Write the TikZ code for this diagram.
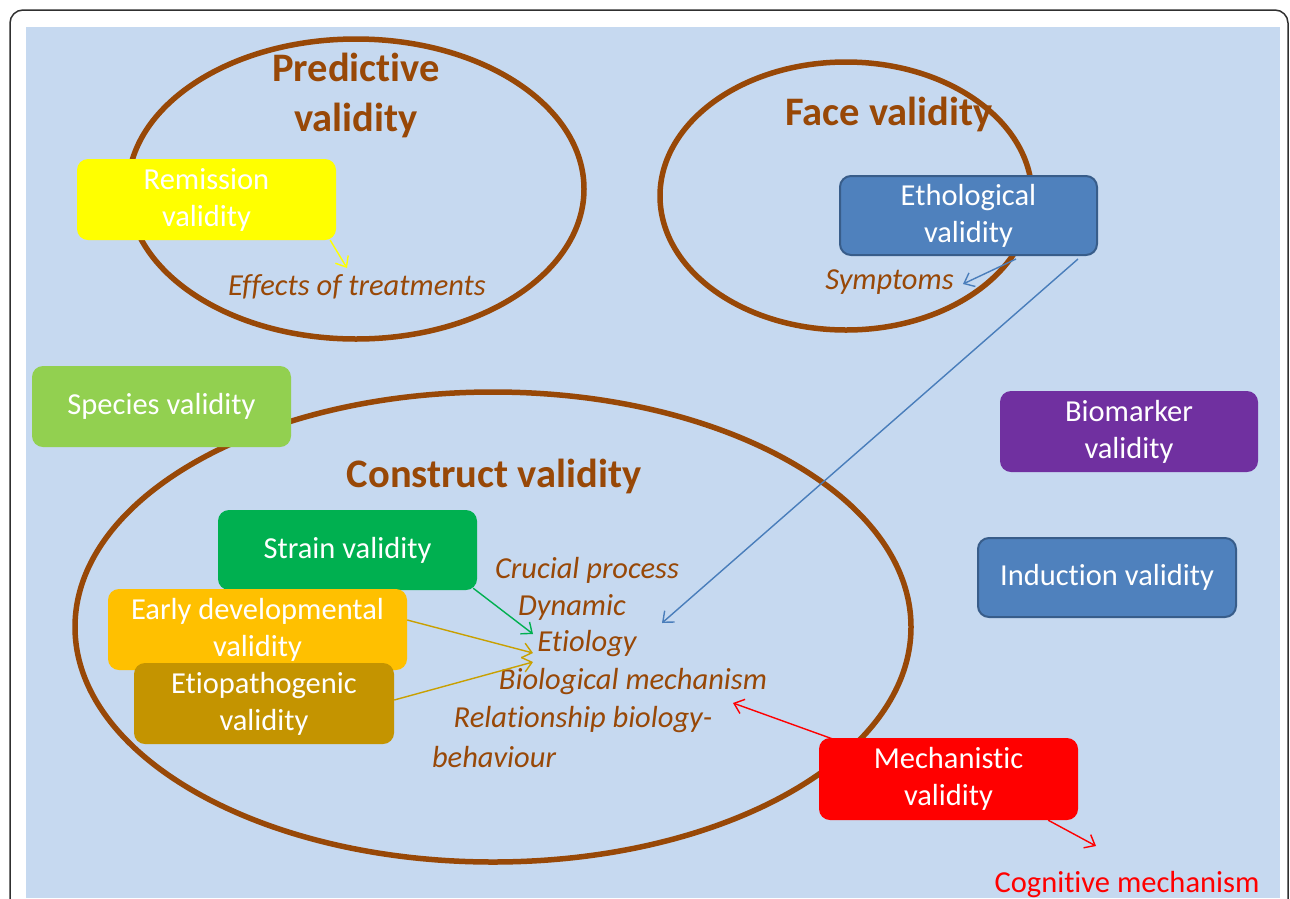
\documentclass[tikz,border=0pt]{standalone}
\usepackage{fontspec}
\setmainfont{Carlito}[Ligatures=NoCommon]
\usetikzlibrary{arrows.meta}
\definecolor{bg}{HTML}{C6D9F0}
\definecolor{brn}{HTML}{984807}
\definecolor{ylw}{HTML}{FFFF00}
\definecolor{sblue}{HTML}{4F81BD}
\definecolor{sblueb}{HTML}{385D8A}
\definecolor{lgreen}{HTML}{92D050}
\definecolor{dgreen}{HTML}{00B050}
\definecolor{purp}{HTML}{7030A0}
\definecolor{orng}{HTML}{FFC000}
\definecolor{gold}{HTML}{C49400}
\definecolor{goldl}{HTML}{C9A000}
\definecolor{rd}{HTML}{FF0000}
\definecolor{lineblue}{HTML}{4A7EBB}
\definecolor{framec}{HTML}{303030}
\begin{document}
\begin{tikzpicture}[x=1pt,y=-1pt,
  ell/.style={draw=brn,line width=5.5pt},
  box/.style={rounded corners=11pt,text=white,align=center,inner sep=0pt,
    font=\fontsize{30.5}{37}\selectfont},
  bbox/.style={box,fill=sblue,draw=sblueb,line width=2pt},
  title/.style={text=brn,align=center,font=\fontsize{40.5}{50}\selectfont\bfseries},
  it/.style={text=brn,font=\fontsize{30.5}{37}\selectfont\itshape,inner sep=0pt},
  arr/.style={line width=1.4pt,-{Straight Barb[length=9pt,width=15pt]}}]
\useasboundingbox (0,0) rectangle (1290,898);
\clip (0,0) rectangle (1290,898);
\fill[white] (0,0) rectangle (1290,898);
\draw[framec,line width=1.5pt,rounded corners=13pt] (10,940) -- (10,10) -- (1288,10) -- (1288,940);
\fill[bg] (26,27) rectangle (1280,898);
% ellipses
\draw[ell] (356,189) ellipse [x radius=228pt,y radius=150pt];
\draw[ell] (846,196) ellipse [x radius=186pt,y radius=134pt];
\draw[ell] (493,627) ellipse [x radius=418pt,y radius=235pt];
% titles
\node[title] (tpred) at (356,95) {Predictive\\validity};
\node[title] (tface) at (889,114) {Face validity};
\node[title] (tcons) at (494,476) {Construct validity};
% boxes
\node[box,fill=ylw,minimum width=259pt,minimum height=81pt] (rem) at (206.5,199.5) {Remission\\validity};
\node[bbox,minimum width=257pt,minimum height=79pt] (eth) at (968.5,215.5) {Ethological\\validity};
\node[box,fill=lgreen,minimum width=259pt,minimum height=81pt] (spec) at (161.5,406.5) {Species validity};
\node[box,fill=purp,minimum width=258pt,minimum height=81pt] (bio) at (1129,431.5) {Biomarker\\validity};
\node[bbox,minimum width=258pt,minimum height=79pt] (ind) at (1107,577.5) {Induction validity};
\node[box,fill=dgreen,minimum width=259pt,minimum height=80pt] (str) at (347.5,550) {Strain validity};
\node[box,fill=orng,minimum width=299pt,minimum height=81pt] (early) at (257.5,629.5) {Early developmental\\validity};
\node[box,fill=gold,minimum width=260pt,minimum height=81pt] (etio) at (264,703.5) {Etiopathogenic\\validity};
\node[box,fill=rd,minimum width=259pt,minimum height=82pt] (mech) at (948.5,779) {Mechanistic\\validity};
% italic texts
\node[it] (eff) at (357,287) {Effects of treatments};
\node[it] (sym) at (889.5,282) {Symptoms};
\node[it] (cru) at (587,570) {Crucial process};
\node[it] (dyn) at (572,607) {Dynamic};
\node[it] (etl) at (587,644) {Etiology};
\node[it] (biom) at (633,682) {Biological mechanism};
\node[it] (rel) at (583,720) {Relationship biology-};
\node[it] (beh) at (494,757) {behaviour};
\node[text=rd,font=\fontsize{30.5}{37}\selectfont,inner sep=0pt] (cog) at (1127,885) {Cognitive mechanism};
% arrow end points
\coordinate (e1) at (347,268);
\coordinate (e2) at (963,284);
\coordinate (e3) at (662,623);
\coordinate (e4) at (533,634);
\coordinate (e5) at (533,653);
\coordinate (e6) at (533,662);
\coordinate (e7) at (733,703);
\coordinate (e8) at (1096,846);
% arrows
\draw[arr,ylw] ([xshift=-6pt]rem.south east) -- (e1);
\draw[arr,lineblue] ([xshift=47.5pt,yshift=-3pt]eth.south) -- (e2);
\draw[arr,lineblue] ([xshift=-20pt,yshift=-3pt]eth.south east) -- (e3);
\draw[arr,dgreen] ([xshift=-4pt,yshift=2pt]str.south east) -- (e4);
\draw[arr,goldl] ([yshift=9.5pt]early.east) -- (e5);
\draw[arr,goldl] ([yshift=3.5pt]etio.east) -- (e6);
\draw[arr,rd] ([xshift=19pt,yshift=-3pt]mech.north west) -- (e7);
\draw[arr,rd] ([xshift=-30pt]mech.south east) -- (e8);
\end{tikzpicture}
\end{document}
